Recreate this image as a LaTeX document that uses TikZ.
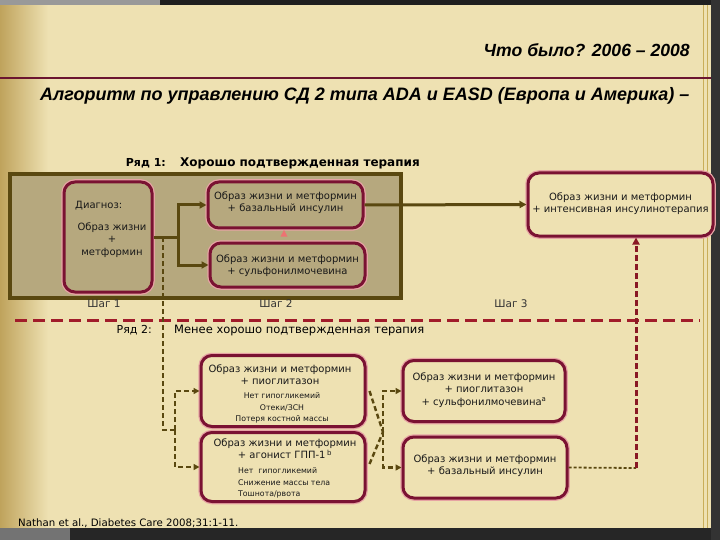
\documentclass[tikz,border=0pt]{standalone}
\usepackage{fontspec}
\setmainfont{DejaVu Sans}
\newfontfamily\arialfont{Liberation Sans}
\usetikzlibrary{arrows.meta}
\definecolor{parch}{HTML}{EEE1B2}
\definecolor{leftdark}{HTML}{BFA35C}
\definecolor{khaki}{HTML}{B6A87E}
\definecolor{brownline}{HTML}{5A4810}
\definecolor{maroon}{HTML}{7A1232}
\definecolor{halo}{HTML}{E6A3A3}
\definecolor{redash}{HTML}{A11C2A}
\definecolor{rule}{HTML}{6B1530}
\definecolor{frameline}{HTML}{C9AE5A}
\tikzset{
  rbox/.style={draw=maroon, line width=3pt, rounded corners=11pt,
    preaction={draw=halo, line width=5.5pt}, inner sep=0pt},
  boxtxt/.style={font=\fontsize{10}{12.3}\selectfont, align=center, inner sep=0pt, text=black!90},
  smalltxt/.style={font=\fontsize{7.8}{11.3}\selectfont, inner sep=0pt, text=black!90},
  solidcon/.style={draw=brownline, line width=3pt},
  solidarr/.style={solidcon, -{Triangle[length=7pt,width=7pt]}},
  dashcon/.style={draw=brownline, line width=2.4pt, dash pattern=on 5pt off 3pt},
  dasharr/.style={dashcon, -{Triangle[length=6pt,width=6pt]}},
  steplbl/.style={font=\fontsize{10.5}{12}\selectfont, text=black!80, inner sep=0pt},
}
\begin{document}
\begin{tikzpicture}[x=1pt,y=-1pt]
\useasboundingbox (0,0) rectangle (720,540);
% background and frame
\fill[parch] (0,0) rectangle (720,540);
\shade[left color=leftdark, right color=parch] (0,0) rectangle (48,540);
\fill[black!88] (0,0) rectangle (720,5);
\fill[black!40] (0,0) rectangle (160,5);
\fill[black!85] (0,528) rectangle (720,540);
\fill[black!55] (0,528) rectangle (70,540);
\fill[black!80] (711,0) rectangle (720,540);
\draw[frameline, line width=1pt] (703,5) -- (703,528);
\draw[frameline, line width=1pt] (707,5) -- (707,528);
\draw[rule, line width=2.2pt] (0,78) -- (711,78);

% titles
\node[font=\arialfont\bfseries\itshape\fontsize{17.6}{20}\selectfont, anchor=east, inner sep=0pt] (top) at (690,50) {Что было? 2006 – 2008};
\node[font=\arialfont\bfseries\itshape\fontsize{18}{20}\selectfont, anchor=west, inner sep=0pt] (title) at (40,96) {Алгоритм по управлению СД 2 типа ADA и EASD (Европа и Америка) –};

% row 1
\node[font=\bfseries\fontsize{11}{13}\selectfont, anchor=east, inner sep=0pt] (r1) at (166,163) {Ряд 1:};
\node[font=\bfseries\fontsize{12}{14}\selectfont, anchor=west, inner sep=0pt] (r1t) at (180,163) {Хорошо подтвержденная терапия};

\node[draw=brownline, fill=khaki, line width=3.2pt, minimum width=391pt, minimum height=124pt, inner sep=0pt] (big) at (205.5,236) {};

\node[rbox, fill=khaki, minimum width=88pt, minimum height=110pt] (diag) at (108,237) {};
\node[boxtxt, anchor=west] (diagt1) at (75,206) {Диагноз:};
\node[boxtxt] (diagt2) at (112,240) {Образ жизни\\+\\метформин};

\node[rbox, fill=khaki, minimum width=155pt, minimum height=46pt] (A) at (285.5,205) {};
\node[boxtxt] (At) at (285.5,203) {Образ жизни и метформин\\+ базальный инсулин};
\node[rbox, fill=khaki, minimum width=155pt, minimum height=44pt] (B) at (287.5,265) {};
\node[boxtxt] (Bt) at (287.5,266) {Образ жизни и метформин\\+ сульфонилмочевина};
\fill[halo!70!red] (280.5,236.5) -- (287.5,236.5) -- (284,230) -- cycle;

\node[rbox, fill=parch, minimum width=185pt, minimum height=63pt] (E) at (620.5,204.5) {};
\node[boxtxt] (Et) at (620.5,203.5) {Образ жизни и метформин\\+ интенсивная инсулинотерапия};

\coordinate (j1) at (178,237);
\draw[solidcon] (diag.east) -- (j1);
\draw[solidarr] (j1) |- (A.west);
\draw[solidarr] (j1) |- (B.west);
\draw[solidarr] (A.east) -- (E.west);

% steps
\node[steplbl] (s1) at (104,304) {Шаг 1};
\node[steplbl] (s2) at (276,304) {Шаг 2};
\node[steplbl] (s3) at (511,304) {Шаг 3};

% separator
\coordinate (h0) at (15,320);
\coordinate (h1) at (700,320);
\draw[redash, line width=3pt, dash pattern=on 12pt off 6pt] (h0) -- (h1);

% row 2
\node[font=\fontsize{11}{13}\selectfont, anchor=east, inner sep=0pt] (r2) at (152,330) {Ряд 2:};
\node[font=\fontsize{11.5}{13}\selectfont, anchor=west, inner sep=0pt] (r2t) at (174,331) {Менее хорошо подтвержденная терапия};

\node[rbox, fill=parch, minimum width=164pt, minimum height=71pt] (C) at (283,391) {};
\node[boxtxt] (Ct) at (280,375) {Образ жизни и метформин\\+ пиоглитазон};
\node[smalltxt, align=center] (Cs) at (282,408) {Нет гипогликемий\\Отеки/ЗСН\\Потеря костной массы};

\node[rbox, fill=parch, minimum width=164pt, minimum height=69pt] (D) at (283,467) {};
\node[boxtxt] (Dt) at (285,449) {Образ жизни и метформин\\+ агонист ГПП-1\,\textsuperscript{b}};
\node[smalltxt, align=left, anchor=west] (Ds) at (238,483) {Нет\ \ гипогликемий\\Снижение массы тела\\Тошнота/рвота};

\node[rbox, fill=parch, minimum width=162pt, minimum height=61pt] (F) at (484,391) {};
\node[boxtxt] (Ft) at (484,390) {Образ жизни и метформин\\+ пиоглитазон\\+ сульфонилмочевина\textsuperscript{a}};

\node[rbox, fill=parch, minimum width=164pt, minimum height=61pt] (G) at (485,467.5) {};
\node[boxtxt] (Gt) at (485,466) {Образ жизни и метформин\\+ базальный инсулин};

% dashed connectors row 2
\coordinate (d0) at (163,237);
\coordinate (d1) at (163,430);
\coordinate (d2) at (175,430);
\draw[dashcon] (d0) -- (d1) -- (d2);
\draw[dasharr] (d2) |- (C.west);
\draw[dasharr] (d2) |- (D.west);

\coordinate (x0) at (383,432);
\draw[dashcon] ([xshift=3pt]C.east) -- (x0);
\draw[dashcon] ([xshift=3pt,yshift=3pt]D.east) -- (x0);
\draw[dasharr] (x0) |- (F.west);
\draw[dasharr] (x0) |- (G.west);

\coordinate (g1) at (636,468);
\draw[draw=brownline, line width=1.8pt, dash pattern=on 3pt off 2pt] (G.east) -- (g1);
\draw[draw=redash!85!black, line width=3pt, dash pattern=on 6pt off 3pt, -{Triangle[length=7pt,width=7pt]}] (g1) -- (g1 |- E.south);

% citation
\node[font=\fontsize{10.2}{12}\selectfont, anchor=west, inner sep=0pt] (cite) at (18,523) {Nathan et al., Diabetes Care 2008;31:1-11.};
\end{tikzpicture}
\end{document}
